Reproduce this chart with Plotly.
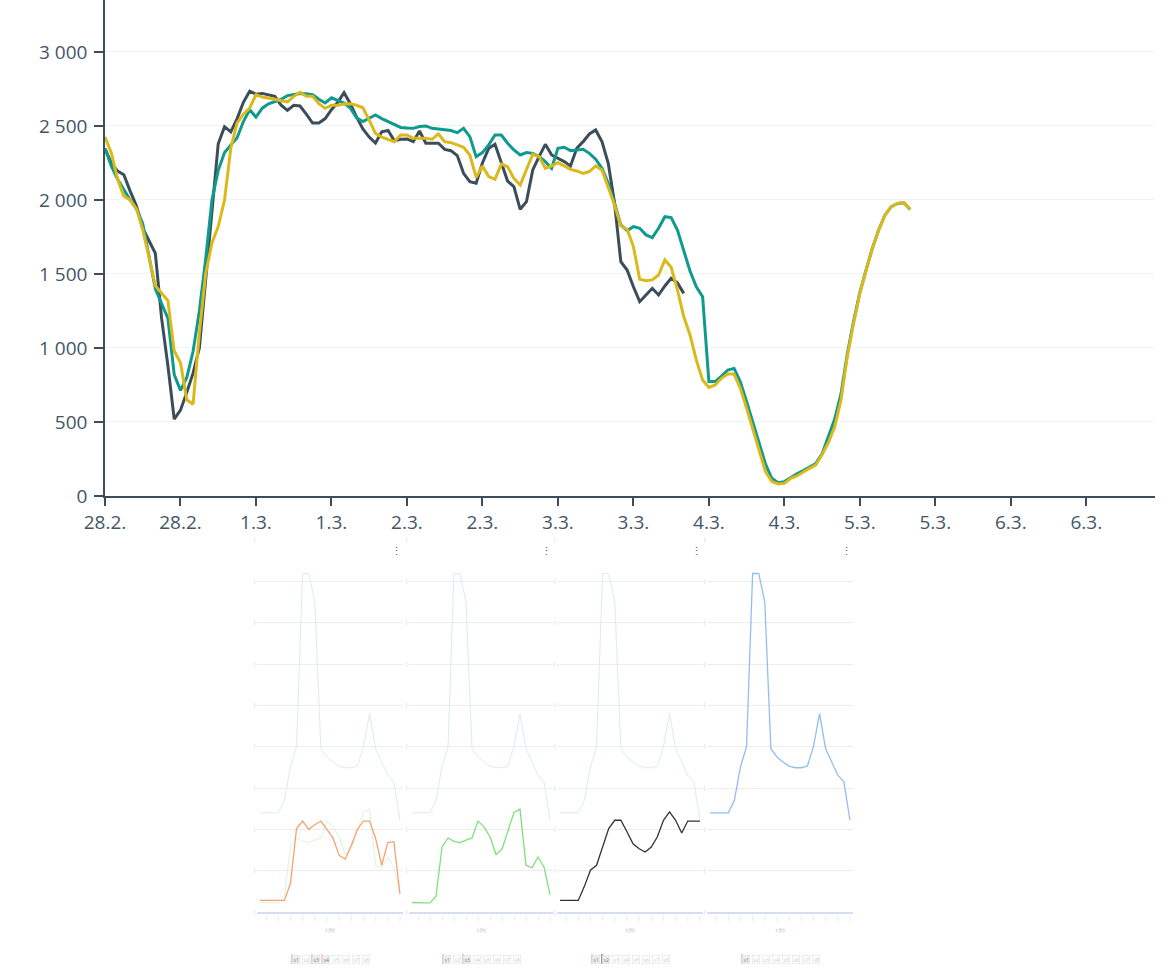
import plotly.graph_objects as go
import pandas as pd

W, H = 1173, 975

# ---------------- top chart data (hourly values) ----------------
start = "2023-02-28 00:00"

dark_vals = [2345, 2250, 2195, 2170, 2060, 1960, 1810, 1720, 1640, 1200, 880, 520, 580, 700, 830, 1000,
             1450, 1950, 2380, 2495, 2460, 2550, 2660, 2735, 2715, 2720, 2710, 2700, 2640, 2605, 2640, 2635,
             2580, 2520, 2520, 2550, 2610, 2660, 2725, 2650, 2560, 2480, 2425, 2385, 2460, 2470, 2400, 2410,
             2412, 2394, 2466, 2383, 2383, 2383, 2342, 2333, 2300, 2180, 2124, 2113, 2250, 2349, 2376, 2250,
             2128, 2090, 1937, 1989, 2203, 2293, 2376, 2304, 2282, 2259, 2230, 2349, 2394, 2446, 2473, 2394,
             2248, 1980, 1583, 1527, 1414, 1313, 1358, 1403, 1358, 1419, 1471, 1441, 1369]

teal_vals = [2350, 2230, 2140, 2070, 2000, 1940, 1840, 1620, 1400, 1300, 1200, 820, 714, 800, 976, 1250,
             1600, 2000, 2200, 2320, 2370, 2420, 2530, 2610, 2560, 2620, 2650, 2665, 2680, 2705, 2710, 2720,
             2718, 2712, 2680, 2655, 2690, 2672, 2655, 2620, 2555, 2530, 2555, 2575, 2550, 2530, 2505, 2490,
             2486, 2484, 2496, 2500, 2484, 2478, 2473, 2469, 2455, 2484, 2428, 2293, 2320, 2372, 2439, 2439,
             2383, 2338, 2304, 2320, 2315, 2293, 2259, 2214, 2349, 2356, 2333, 2338, 2342, 2315, 2275, 2214,
             2113, 1978, 1831, 1793, 1820, 1809, 1764, 1746, 1809, 1887, 1881, 1797, 1650, 1520, 1414, 1347,
             773, 773, 810, 851, 862, 772, 637, 491, 350, 215, 120, 90, 97, 125, 150, 172,
             195, 220, 285, 400, 520, 690, 960, 1180, 1375, 1530, 1676, 1799, 1899, 1955, 1976, 1981, 1936]

yellow_vals = [2425, 2320, 2140, 2025, 2000, 1940, 1800, 1620, 1420, 1370, 1320, 980, 900, 650, 620, 1100,
               1500, 1710, 1820, 2000, 2350, 2520, 2580, 2620, 2712, 2695, 2690, 2680, 2670, 2663, 2700, 2728,
               2700, 2700, 2650, 2619, 2640, 2640, 2648, 2650, 2640, 2623, 2540, 2450, 2425, 2410, 2394, 2439,
               2439, 2417, 2417, 2417, 2410, 2446, 2394, 2387, 2372, 2356, 2304, 2153, 2230, 2158, 2140, 2243,
               2225, 2146, 2101, 2203, 2309, 2293, 2214, 2230, 2252, 2230, 2207, 2196, 2180, 2192, 2230, 2203,
               2079, 1966, 1824, 1802, 1685, 1464, 1455, 1460, 1493, 1595, 1545, 1392, 1212, 1088, 919, 784,
               734, 750, 795, 824, 824, 727, 592, 446, 299, 164, 97, 81, 85, 119, 135, 164,
               187, 210, 280, 360, 468, 648, 941, 1166, 1369, 1527, 1673, 1797, 1898, 1955, 1977, 1982, 1937]

y_tick_vals = [0, 500, 1000, 1500, 2000, 2500, 3000]

# ---------------- small multiples data ----------------
sm_x = list(range(24))
sm_blue = [2.40, 2.40, 2.40, 2.40, 2.70, 3.51, 4.00, 8.19, 8.19, 7.50, 3.95, 3.75,
           3.63, 3.53, 3.49, 3.49, 3.53, 4.00, 4.80, 3.95, 3.63, 3.31, 3.15, 2.22]
sm_orange = [0.28, 0.28, 0.28, 0.28, 0.28, 0.69, 2.02, 2.20, 2.00, 2.11, 2.20, 2.00,
             1.79, 1.37, 1.28, 1.61, 2.00, 2.20, 2.20, 1.78, 1.13, 1.68, 1.70, 0.44]
sm_green = [0.23, 0.22, 0.22, 0.22, 0.38, 1.57, 1.79, 1.71, 1.68, 1.74, 1.79, 2.20,
            2.06, 1.82, 1.39, 1.52, 1.94, 2.41, 2.49, 1.13, 1.07, 1.33, 1.09, 0.42]
sm_black = [0.28, 0.28, 0.28, 0.28, 0.62, 1.01, 1.13, 1.57, 2.02, 2.22, 2.22, 1.94,
            1.65, 1.53, 1.45, 1.57, 1.82, 2.22, 2.42, 2.22, 1.91, 2.20, 2.20, 2.20]
sm_legend_names = ["s1", "s2", "s3", "s4", "s5", "s6", "s7", "s8"]
sm_titles = ["t (h)", "t (h)", "t (h)", "t (h)"]

# ---------------- figure ----------------
fig = go.Figure()

def hourly(vals):
    return pd.date_range(start, periods=len(vals), freq="h")

DARK = "#3b4d5a"
TEAL = "#0f9a8f"
YELLOW = "#dcb91a"

for vals, col in [(dark_vals, DARK), (teal_vals, TEAL), (yellow_vals, YELLOW)]:
    fig.add_trace(go.Scatter(x=hourly(vals), y=vals, mode="lines",
                             line=dict(color=col, width=3), showlegend=False,
                             xaxis="x", yaxis="y"))

px = lambda v: v / W
py = lambda v: 1 - v / H

axis_font = dict(family="Open Sans, sans-serif", size=19, color="#3f5667")

layout = dict(
    width=W, height=H, margin=dict(l=0, r=0, t=0, b=0, autoexpand=False),
    paper_bgcolor="white", plot_bgcolor="white",
    separators=", ",
    showlegend=False,
    xaxis=dict(domain=[px(105), px(1155)], anchor="y", type="date", automargin=False,
               range=["2023-02-28 00:00", "2023-03-06 22:55"],
               tick0="2023-02-28", dtick=43200000, tickformat="%-d.%-m.",
               showline=True, linecolor=DARK, linewidth=1.5,
               ticks="outside", ticklen=8, tickcolor=DARK, tickwidth=1.5,
               showgrid=False, zeroline=False, tickfont=axis_font),
    yaxis=dict(domain=[py(496), 1], anchor="x", range=[0, 3351], automargin=False,
               tickvals=y_tick_vals, tickformat=",",
               showline=True, linecolor=DARK, linewidth=1.5,
               ticks="outside", ticklen=9, tickcolor=DARK, tickwidth=1.5,
               ticklabelstandoff=3,
               showgrid=True, gridcolor="#f3f3f3", gridwidth=1,
               zeroline=False, tickfont=axis_font),
)

panels = [(257, 403), (409, 553), (557, 703), (707, 853)]
series = {
    "blue": sm_blue, "orange": sm_orange, "green": sm_green, "black": sm_black,
}
faint = {"blue": "#dde9fb", "green": "#d9f5d6", "orange": "#fbe0d0", "black": "#dddddd"}
bold = {"blue": "#93bdf0", "green": "#7fe07b", "orange": "#f5a271", "black": "#333333"}
panel_series = [
    (["blue", "green"], "orange"),
    (["blue"], "green"),
    (["blue"], "black"),
    ([], "blue"),
]
legend_colors = [
    ["#7fb0ee", None, "#6fd96b", "#f29a62", None, None, None, None],
    ["#7fb0ee", None, "#6fd96b", None, None, None, None, None],
    ["#7fb0ee", "#333333", None, None, None, None, None, None],
    ["#7fb0ee", None, None, None, None, None, None, None],
]

annotations = []
shapes = []

for i, ((x0, x1), (faints, hl)) in enumerate(zip(panels, panel_series)):
    k = i + 2
    xa, ya = f"xaxis{k}", f"yaxis{k}"
    layout[xa] = dict(domain=[px(x0), px(x1)], anchor=f"y{k}", range=[-0.5, 23.5], automargin=False,
                      tickvals=list(range(1, 24, 2)), ticktext=["|"] * 12,
                      tickfont=dict(family="Open Sans", size=5, color="#c8c8c8"),
                      ticks="", showgrid=False, zeroline=False,
                      showline=True, linecolor="#d5dcf3", linewidth=2,
                      title=dict(text=sm_titles[i], font=dict(family="Open Sans", size=5, color="#b0b0b0"),
                                 standoff=8))
    layout[ya] = dict(domain=[py(912), py(540)], anchor=f"x{k}", range=[0, 9], automargin=False,
                      tickvals=list(range(0, 10)), ticktext=["|"] * 10,
                      tickfont=dict(family="Open Sans", size=5, color="#b8b8b8"),
                      showgrid=True, gridcolor="#ececec",
                      gridwidth=1, zeroline=False, showline=False, ticks="")
    for s in faints:
        fig.add_trace(go.Scatter(x=sm_x, y=series[s], mode="lines",
                                 line=dict(color=faint[s], width=1),
                                 xaxis=f"x{k}", yaxis=f"y{k}", showlegend=False))
    fig.add_trace(go.Scatter(x=sm_x, y=series[hl], mode="lines",
                             line=dict(color=bold[hl], width=1.3),
                             xaxis=f"x{k}", yaxis=f"y{k}", showlegend=False))
    # kebab menu icon
    annotations.append(dict(text="⋮", x=px(x1 + 1), y=py(550), xref="paper", yref="paper",
                            showarrow=False, xanchor="right", yanchor="middle",
                            font=dict(size=11, color="#555555")))
    # mini legend
    lx0 = (x0 + x1) / 2 - 38
    for j, name in enumerate(sm_legend_names):
        c = legend_colors[i][j]
        annotations.append(dict(text=name, x=px(lx0 + j * 10), y=py(959), xref="paper", yref="paper",
                                showarrow=False, xanchor="left", yanchor="middle",
                                font=dict(family="Open Sans", size=5,
                                          color="#777777" if c else "#c8c8c8"),
                                bordercolor="#dddddd", borderwidth=0.5, borderpad=1,
                                bgcolor="#eeeeee" if c else "white"))
        if c:
            shapes.append(dict(type="line", xref="paper", yref="paper",
                               x0=px(lx0 + j * 10), x1=px(lx0 + j * 10),
                               y0=py(954), y1=py(964), line=dict(color=c, width=1)))

layout["annotations"] = annotations
layout["shapes"] = shapes
fig.update_layout(**layout)

fig.write_html("out.html", config={"displayModeBar": False},
               post_script="document.body.style.margin='0px';document.body.style.padding='0px';")
